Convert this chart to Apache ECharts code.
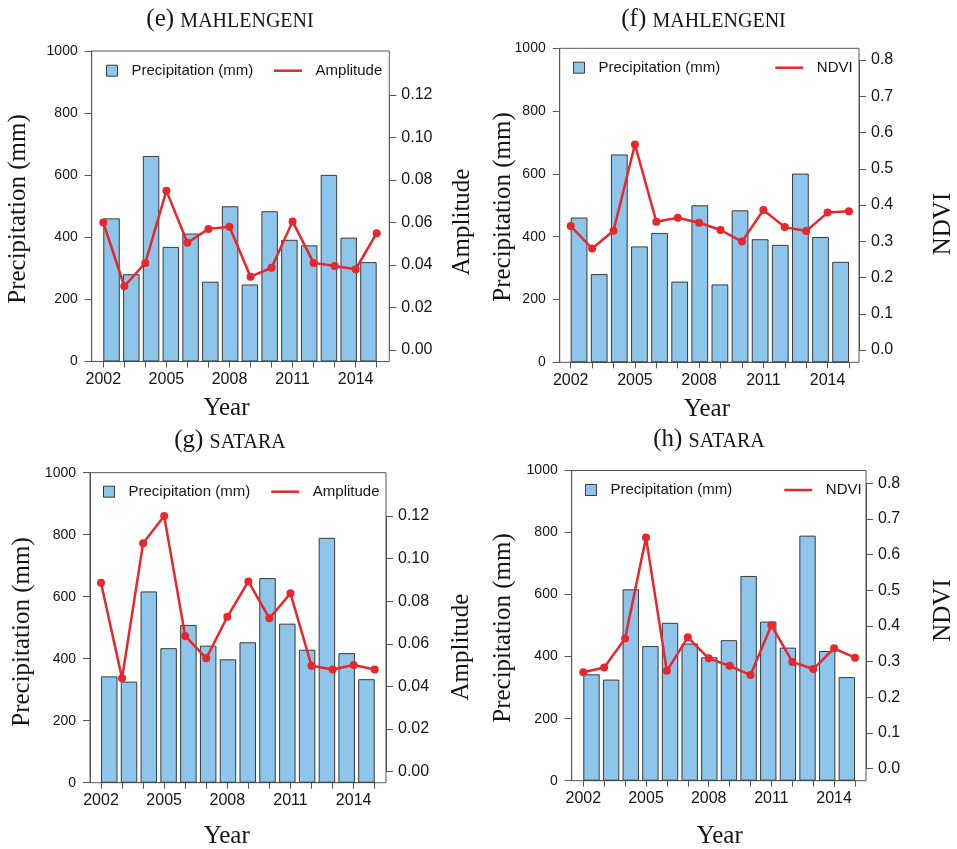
<!DOCTYPE html>
<html>
<head>
<meta charset="utf-8">
<script src="https://cdn.jsdelivr.net/npm/echarts@6/dist/echarts.min.js"></script>
<style>
html,body{margin:0;padding:0;background:#fff;}
#chart{width:957px;height:849px;}
</style>
</head>
<body>
<div id="chart"></div>
<script>
// ---------------- data ----------------
const years = [2002,2003,2004,2005,2006,2007,2008,2009,2010,2011,2012,2013,2014,2015];
const yearTickLabels = ['2002','2005','2008','2011','2014'];
const precipTickStep = 200;

const precipMahlengeni   = [461,281,662,369,412,257,500,248,484,392,374,601,399,320];
const amplitudeMahlengeni = [0.060,0.030,0.041,0.075,0.0505,0.057,0.058,0.0345,0.0387,0.0605,0.041,0.0395,0.038,0.055];
const ndviMahlengeni     = [0.342,0.280,0.329,0.567,0.354,0.365,0.351,0.331,0.299,0.386,0.339,0.328,0.379,0.383];

const precipSatara       = [343,326,617,434,509,442,398,453,660,513,429,790,418,334];
const amplitudeSatara    = [0.0887,0.0438,0.1072,0.120,0.0637,0.0532,0.0727,0.0893,0.0720,0.0837,0.0497,0.0480,0.0501,0.0480];
const ndviSatara         = [0.270,0.2835,0.365,0.648,0.274,0.368,0.309,0.288,0.262,0.402,0.299,0.279,0.337,0.311];

// ---------------- panels (content) ----------------
const panels = [
  {tag:'(e)', station:'MAHLENGENI', precip:precipMahlengeni, line:amplitudeMahlengeni, lineName:'Amplitude', rMax:0.12, rStep:0.02, rDec:2},
  {tag:'(f)', station:'MAHLENGENI', precip:precipMahlengeni, line:ndviMahlengeni, lineName:'NDVI', rMax:0.8, rStep:0.1, rDec:1},
  {tag:'(g)', station:'SATARA', precip:precipSatara, line:amplitudeSatara, lineName:'Amplitude', rMax:0.12, rStep:0.02, rDec:2},
  {tag:'(h)', station:'SATARA', precip:precipSatara, line:ndviSatara, lineName:'NDVI', rMax:0.8, rStep:0.1, rDec:1}
];

// ---------------- layout (pixels) ----------------
const layouts = [
  {boxL:91.7, boxR:389.3, boxT:51, boxB:361.5, t0:103.3, t1:376.7, rTop:95, rBot:350,
   title:[230,19.5], yTitle:[18,209], rTitle:[462,222], xTitle:[226.5,408], legSq:106, legLine:272.7, legY:70.7},
  {boxL:559.7, boxR:859, boxT:48.3, boxB:362.3, t0:570.7, t1:849, rTop:60, rBot:350,
   title:[703.5,19], yTitle:[503,207], rTitle:[943,224], xTitle:[707,409], legSq:573, legLine:774, legY:67.7},
  {boxL:90, boxR:386, boxT:472.7, boxB:782.7, t0:101, t1:374.7, rTop:516, rBot:771.7,
   title:[230,440], yTitle:[22,632], rTitle:[461.7,647], xTitle:[226.7,836.7], legSq:103, legLine:270, legY:491.7},
  {boxL:571.7, boxR:866, boxT:470.5, boxB:780.7, t0:583.3, t1:855, rTop:483.3, rBot:768.5,
   title:[709,439], yTitle:[503,628], rTitle:[943,610.5], xTitle:[719.7,836.7], legSq:585, legLine:783, legY:490}
];

const SANS = 'Liberation Sans';
const SERIF = 'Liberation Serif';
const AXIS_COLOR = '#555';
const TEXT_COLOR = '#151515';
const BAR_FILL = '#8DC6EA';
const BAR_BORDER = '#3a3a3a';
const RED = '#E8262B';

const grid = [], xAxis = [], yAxis = [], series = [], legend = [], graphic = [];

panels.forEach((p, i) => {
  const L = layouts[i];
  const pxU = (L.t1 - L.t0) / 16.6;
  const gBox = 3*i, gBar = 3*i+1, gLine = 3*i+2;

  grid.push({left:L.boxL, top:L.boxT, width:L.boxR-L.boxL, height:L.boxB-L.boxT,
             show:true, borderColor:AXIS_COLOR, borderWidth:1, backgroundColor:'transparent', outerBoundsMode:'none', containLabel:false});
  grid.push({left:L.t0-0.1*pxU, top:L.boxT, width:16.8*pxU, height:L.boxB-L.boxT, outerBoundsMode:'none', containLabel:false});
  grid.push({left:L.t0, top:L.rTop, width:L.t1-L.t0, height:L.rBot-L.rTop, outerBoundsMode:'none', containLabel:false});

  // box grid axes (left precipitation axis)
  xAxis.push({gridIndex:gBox, type:'value', min:0, max:1, show:false});
  yAxis.push({gridIndex:gBox, type:'value', min:0, max:1000, interval:precipTickStep, position:'left',
    axisLine:{show:true, onZero:false, lineStyle:{color:AXIS_COLOR, width:1}},
    axisTick:{show:true, inside:false, length:7, lineStyle:{color:AXIS_COLOR, width:1}},
    axisLabel:{show:true, fontSize:14, fontFamily:SANS, color:TEXT_COLOR, margin:14, formatter:(v) => String(v)},
    splitLine:{show:false}});

  // bar grid axes (hidden)
  xAxis.push({gridIndex:gBar, type:'category', data:years, boundaryGap:true, show:false});
  yAxis.push({gridIndex:gBar, type:'value', min:0, max:1000, show:false});

  // line grid axes (years bottom, right axis)
  xAxis.push({gridIndex:gLine, type:'value', min:2002, max:2015, interval:1, position:'bottom',
    offset:L.boxB - L.rBot,
    axisLine:{show:true, onZero:false, lineStyle:{color:AXIS_COLOR, width:1}},
    axisTick:{show:true, inside:false, length:6, lineStyle:{color:AXIS_COLOR, width:1}},
    axisLabel:{show:true, fontSize:16, fontFamily:SANS, color:TEXT_COLOR, margin:10,
      showMinLabel:true, showMaxLabel:true,
      formatter:(v) => yearTickLabels.indexOf(String(Math.round(v))) >= 0 ? String(Math.round(v)) : ''},
    splitLine:{show:false}});
  yAxis.push({gridIndex:gLine, type:'value', min:0, max:p.rMax, interval:p.rStep, position:'right',
    offset:L.boxR - L.t1,
    axisLine:{show:true, onZero:false, lineStyle:{color:AXIS_COLOR, width:1}},
    axisTick:{show:true, inside:false, length:7, lineStyle:{color:AXIS_COLOR, width:1}},
    axisLabel:{show:true, fontSize:16, fontFamily:SANS, color:TEXT_COLOR, margin:12,
      formatter:(v) => Number(v).toFixed(p.rDec)},
    splitLine:{show:false}});

  series.push({type:'bar', name:'Precipitation (mm)', xAxisIndex:gBar, yAxisIndex:gBar,
    data:p.precip, barWidth:'83.33%',
    itemStyle:{color:BAR_FILL, borderColor:BAR_BORDER, borderWidth:1},
    emphasis:{disabled:true}, silent:true});
  series.push({type:'line', name:p.lineName, xAxisIndex:gLine, yAxisIndex:gLine,
    data:years.map((y,k) => [y, p.line[k]]),
    symbol:'circle', symbolSize:8, showSymbol:true, clip:false,
    lineStyle:{color:RED, width:2.5}, itemStyle:{color:RED},
    emphasis:{disabled:true}, silent:true, z:5});

  legend.push({data:[{name:'Precipitation (mm)', icon:'rect'}], left:L.legSq, top:L.legY-7.5,
    orient:'horizontal', padding:0, itemWidth:11, itemHeight:11, selectedMode:false,
    itemStyle:{color:BAR_FILL, borderColor:BAR_BORDER, borderWidth:1},
    textStyle:{fontSize:15, fontFamily:SANS, color:TEXT_COLOR, padding:[0,0,0,9]}});
  legend.push({data:[{name:p.lineName}], left:L.legLine, top:L.legY-7.5,
    orient:'horizontal', padding:0, itemWidth:28, itemHeight:2, selectedMode:false,
    lineStyle:{color:RED, width:2.5}, itemStyle:{color:RED, borderWidth:0},
    textStyle:{fontSize:15, fontFamily:SANS, color:TEXT_COLOR, padding:[0,0,0,8.6]}});

  graphic.push({type:'text', x:L.title[0], y:L.title[1], silent:true,
    style:{text:'{a|' + p.tag + '} {b|' + p.station + '}', fontSize:25, fontFamily:SERIF, fill:TEXT_COLOR,
      align:'center', verticalAlign:'middle',
      rich:{a:{fontSize:25, fontFamily:SERIF, fill:TEXT_COLOR, verticalAlign:'bottom'},
            b:{fontSize:20, fontFamily:SERIF, fill:TEXT_COLOR, verticalAlign:'bottom'}}}});
  graphic.push({type:'text', x:L.yTitle[0], y:L.yTitle[1], rotation:Math.PI/2, silent:true,
    style:{text:'Precipitation (mm)', fontSize:25, fontFamily:SERIF, fill:TEXT_COLOR, align:'center', verticalAlign:'middle'}});
  graphic.push({type:'text', x:L.rTitle[0], y:L.rTitle[1], rotation:Math.PI/2, silent:true,
    style:{text:p.lineName, fontSize:25, fontFamily:SERIF, fill:TEXT_COLOR, align:'center', verticalAlign:'middle'}});
  graphic.push({type:'text', x:L.xTitle[0], y:L.xTitle[1], silent:true,
    style:{text:'Year', fontSize:25, fontFamily:SERIF, fill:TEXT_COLOR, align:'center', verticalAlign:'middle'}});
});

const chart = echarts.init(document.getElementById('chart'), null, {renderer:'canvas', width:957, height:849});
chart.setOption({
  backgroundColor:'#ffffff',
  animation:false,
  textStyle:{fontFamily:SANS},
  grid, xAxis, yAxis, series, legend, graphic
});
</script>
</body>
</html>
